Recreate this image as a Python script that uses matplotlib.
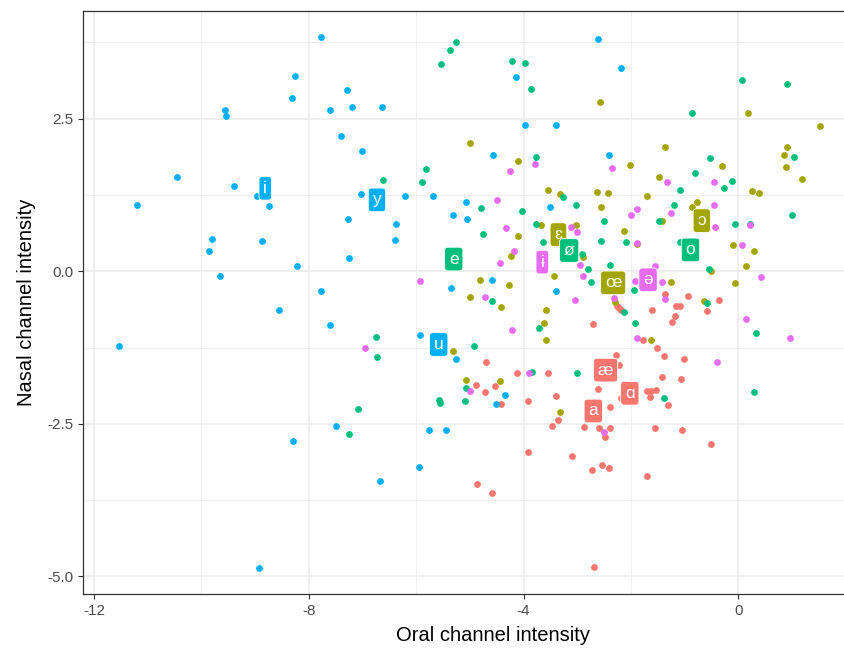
import matplotlib
matplotlib.use('Agg')
import matplotlib.pyplot as plt
import numpy as np

plt.rcParams['font.family'] = ['Liberation Sans', 'DejaVu Sans']

# vowel groups and their ggplot hue colours
groups = ['a', 'e', 'o', 'i', 'schwa']
colors = ['#F8766D', '#A3A500', '#00BF7D', '#00B0F6', '#E76BF3']

# points per group (oral intensity, nasal intensity)
red_x = [-2.26, -2.22, -2.19, -1.60, -2.70, -1.78, -1.51, -4.70, -2.27, -2.22, -4.13, -3.55, -4.89, -4.54,
         -4.71, -3.39, -2.61, -2.13, -1.70, -1.63, -1.53, -1.37, -0.93, -0.36, -0.58, -1.16, -1.08, -1.17,
         -1.23, -1.39, -1.01, -1.42, -1.06, -4.42, -3.92, -3.35, -3.47, -2.88, -2.60, -2.49, -2.38, -2.38,
         -2.19, -1.65, -1.56, -3.92, -3.10, -2.53, -2.73, -2.41, -1.70, -4.86, -4.58, -2.68, -1.30, -1.04, -0.51]
red_y = [-0.57, -0.61, -0.64, -0.64, -0.87, -1.13, -1.26, -1.48, -1.37, -1.53, -1.67, -1.67, -1.87, -1.88,
         -1.98, -2.04, -1.93, -1.85, -1.96, -1.97, -1.94, -0.37, -0.41, -0.47, -0.65, -0.57, -0.57, -0.74,
         -0.83, -1.39, -1.43, -1.74, -1.76, -2.17, -2.13, -2.43, -2.54, -2.55, -2.57, -2.71, -2.57, -2.22,
         -2.07, -2.06, -2.57, -2.96, -3.02, -3.17, -3.25, -3.22, -3.35, -3.49, -3.63, -4.85, -2.19, -2.60, -2.83]

olive_x = [-4.99, -2.57, -4.11, -2.01, -1.48, -3.55, -3.32, -2.63, -2.43, -1.70, -2.55, 0.18, 1.52, -1.37,
           0.91, 0.86, 0.88, -0.30, 1.18, 0.25, 0.39, -0.76, -0.86, -4.99, -5.32, -5.07, -4.11, -4.23, -3.68,
           -3.02, -2.89, -2.12, -1.88, -3.44, -4.81, -4.27, -4.42, -2.30, -3.58, -3.61, -3.58, -1.62, -4.43,
           -1.42, -0.09, 0.30, 0.15, -0.50, -1.25, -0.06, -0.64, -3.32]
olive_y = [2.10, 2.77, 1.81, 1.74, 1.54, 1.33, 1.26, 1.30, 1.29, 1.23, 1.05, 2.60, 2.38, 2.03,
           2.04, 1.91, 1.71, 1.72, 1.51, 1.31, 1.29, 1.13, 1.06, -0.42, -1.31, -1.78, 0.58, 0.25, 0.76,
           0.76, 0.23, 0.66, 0.45, -0.07, -0.14, -0.23, -0.59, -0.50, -0.64, -0.85, -1.13, -1.13, -1.80,
           0.83, 0.43, 0.34, 0.09, 0.01, -0.17, -0.20, -0.48, -2.30]

green_x = [-6.61, -5.81, -5.90, -5.53, -5.37, -5.25, -4.21, -3.97, -3.86, -3.77, -3.27, -4.79, -3.02, -4.03,
           0.07, 0.91, -0.86, 1.04, -0.52, -0.81, -0.12, -0.27, -1.09, -1.19, -6.75, -6.73, -5.07, -5.57,
           -2.50, -1.47, -4.76, -3.76, -3.63, -2.91, -2.55, -2.09, -2.79, -2.39, -2.74, -1.94, -4.59, -2.13,
           -3.71, -1.92, -4.92, -3.84, -3.01, -0.07, 0.22, 1.01, -1.09, -0.54, -0.58, 0.33, -1.38, 0.30,
           -7.08, -7.25, -5.56, -5.09]
green_y = [1.50, 1.68, 1.47, 3.40, 3.63, 3.75, 3.45, 3.41, 2.99, 1.88, 1.22, 1.04, 1.09, 0.98,
           3.14, 3.07, 2.59, 1.87, 1.86, 1.61, 1.48, 1.37, 1.33, 1.09, -1.08, -1.40, -1.92, -2.11,
           0.83, 0.83, 0.61, 0.78, 0.48, 0.28, 0.49, 0.48, 0.04, 0.11, -0.17, -0.30, -0.48, -0.66,
           -0.93, -0.85, -1.22, -1.65, -1.67, 0.77, 0.78, 0.93, 0.48, 0.04, -0.52, -1.02, -2.07, -1.98,
           -2.26, -2.66, -2.16, -2.13]

blue_x = [-9.56, -9.54, -10.46, -9.40, -11.20, -8.97, -8.74, -7.77, -8.25, -8.32, -7.29, -7.61, -7.19, -6.64,
          -7.40, -7.01, -7.03, -6.21, -5.69, -5.08, -2.61, -2.18, -4.14, -3.97, -3.39, -4.56, -2.40, -3.50,
          -9.80, -9.86, -8.88, -9.65, -8.56, -11.53, -7.27, -6.37, -6.39, -7.25, -8.22, -5.32, -5.05, -5.35,
          -7.77, -7.61, -5.93, -5.26, -4.58, -3.40, -4.34, -8.92, -7.49, -8.29, -6.68, -5.94, -5.76, -5.45, -4.52]
blue_y = [2.65, 2.54, 1.54, 1.40, 1.09, 1.24, 1.07, 3.84, 3.20, 2.84, 2.97, 2.65, 2.69, 2.69,
          2.22, 1.97, 1.26, 1.23, 1.24, 1.13, 3.81, 3.33, 3.19, 2.39, 2.40, 1.91, 1.91, 1.05,
          0.53, 0.34, 0.50, -0.08, -0.63, -1.22, 0.86, 0.77, 0.52, 0.22, 0.08, 0.93, 0.86, -0.28,
          -0.33, -0.88, -1.05, -1.44, -0.14, -0.32, -2.03, -4.87, -2.53, -2.79, -3.43, -3.21, -2.60, -2.60, -2.18]

pink_x = [-3.79, -4.25, -2.36, -4.50, -1.88, -1.32, -0.46, -0.46, -5.93, -6.96, -4.99, -1.99, -4.32, -4.17,
          -4.44, -3.11, -3.01, -1.89, -2.94, -2.89, -1.56, -1.92, -4.71, -3.04, -2.31, -4.21, -1.89, -3.90,
          -1.25, 0.22, -0.43, 0.07, 0.42, -1.42, -1.37, 0.14, 0.96, -0.40, -2.51]
pink_y = [1.76, 1.64, 1.70, 1.16, 1.02, 1.46, 1.46, 1.09, -0.16, -1.26, -1.96, 0.93, 0.71, 0.34,
          0.13, 0.72, 0.64, 0.47, 0.11, -0.07, 0.09, -0.16, -0.43, -0.47, -0.44, -0.96, -1.09, -1.66,
          0.95, 0.76, 0.72, 0.43, -0.09, -0.17, -0.46, -0.79, -1.09, -1.48, -2.63]

# vowel labels: text, group index, x, y
label_text = ['a', 'æ', 'ɑ', 'ɛ', 'ø', 'œ', 'ɔ', 'e', 'o', 'i', 'y', 'u', 'ɨ', 'ə']
label_group = [0, 0, 0, 1, 2, 1, 1, 2, 2, 3, 3, 3, 4, 4]
label_x = [-2.70, -2.47, -2.02, -3.35, -3.15, -2.33, -0.68, -5.30, -0.89, -8.81, -6.73, -5.58, -3.65, -1.68]
label_y = [-2.29, -1.62, -2.00, 0.60, 0.34, -0.19, 0.83, 0.20, 0.35, 1.36, 1.17, -1.20, 0.15, -0.14]

fig = plt.figure(figsize=(8.44, 6.54), dpi=100)
# the panel runs past the right edge of the picture, as in the reference crop
ax = fig.add_axes([0.0987, 0.0917, 0.9713, 0.8919])

xs = [red_x, olive_x, green_x, blue_x, pink_x]
ys = [red_y, olive_y, green_y, blue_y, pink_y]
for gx, gy, c in zip(xs, ys, colors):
    ax.scatter(gx, gy, s=24, color=c, linewidths=0, zorder=3)

for t, g, lx, ly in zip(label_text, label_group, label_x, label_y):
    ax.text(lx, ly, t, color='white', fontsize=12.5, ha='center', va='center', zorder=4,
            bbox=dict(boxstyle='round,pad=0.25,rounding_size=0.2', fc=colors[g], ec='white', lw=0.6))

ax.set_xlim(-12.2, 3.07)
ax.set_ylim(-5.29, 4.27)
ax.set_xticks([-12, -8, -4, 0])
ax.set_xticklabels(['-12', '-8', '-4', '0'])
ax.set_yticks([-5.0, -2.5, 0.0, 2.5])
ax.set_yticklabels(['-5.0', '-2.5', '0.0', '2.5'])
ax.set_xticks([-10, -6, -2, 2], minor=True)
ax.set_yticks([-3.75, -1.25, 1.25, 3.75], minor=True)

ax.grid(True, which='major', color='#EBEBEB', linewidth=1.1, zorder=0)
ax.grid(True, which='minor', color='#EBEBEB', linewidth=0.55, zorder=0)
ax.set_axisbelow(True)
ax.tick_params(which='major', length=3.5, width=0.8, color='#333333', labelcolor='#4D4D4D', labelsize=11)
ax.tick_params(which='minor', length=0)
for sp in ax.spines.values():
    sp.set_color('#333333')
    sp.set_linewidth(0.9)

ax.set_xlabel('Oral channel intensity', fontsize=14.5, labelpad=6)
ax.set_ylabel('Nasal channel intensity', fontsize=14.5, labelpad=8)

fig.savefig('out.png', dpi=100)
